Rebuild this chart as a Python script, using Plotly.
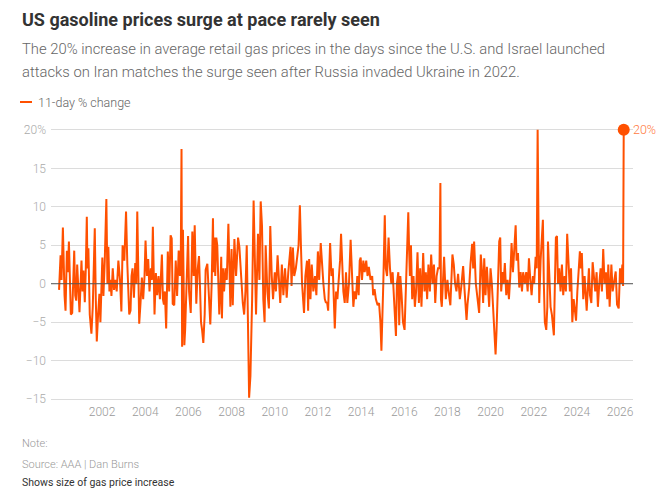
import plotly.graph_objects as go

# 11-day % change in US average retail gasoline price
dates = [
    "2000-01-03", "2000-01-29", "2000-02-14", "2000-03-08", "2000-04-05", "2000-04-22", "2000-05-15", "2000-06-01", "2000-06-18", "2000-07-05", "2000-07-21", "2000-08-13", "2000-09-16", "2000-10-03", "2000-10-20", "2000-11-05", "2000-11-28", "2000-12-14",
    "2001-01-17", "2001-02-03", "2001-02-20", "2001-03-14", "2001-03-31", "2001-04-17", "2001-04-28", "2001-05-14", "2001-06-06", "2001-07-04", "2001-07-27", "2001-08-30", "2001-09-16", "2001-10-03", "2001-10-25", "2001-11-16", "2001-12-03", "2001-12-21",
    "2002-01-05", "2002-01-23", "2002-02-15", "2002-03-14", "2002-04-01", "2002-04-17", "2002-05-05", "2002-05-22", "2002-06-08", "2002-06-30", "2002-07-22", "2002-08-14", "2002-09-05", "2002-10-03", "2002-10-31", "2002-11-23", "2002-12-14",
    "2003-01-12", "2003-02-10", "2003-03-04", "2003-04-05", "2003-04-27", "2003-05-14", "2003-05-31", "2003-06-23", "2003-07-16", "2003-08-02", "2003-08-19", "2003-09-05", "2003-09-21", "2003-10-13", "2003-11-05", "2003-11-27", "2003-12-20",
    "2004-01-06", "2004-01-29", "2004-02-20", "2004-03-13", "2004-04-05", "2004-04-22", "2004-05-09", "2004-05-26", "2004-06-06", "2004-06-29", "2004-07-21", "2004-08-13", "2004-09-05", "2004-10-09", "2004-10-26", "2004-11-12", "2004-11-28", "2004-12-20",
    "2005-01-17", "2005-02-09", "2005-03-05", "2005-03-24", "2005-04-10", "2005-05-06", "2005-05-31", "2005-06-23", "2005-07-20", "2005-08-10", "2005-08-26", "2005-08-31", "2005-09-06", "2005-09-16", "2005-09-22", "2005-09-30", "2005-10-14", "2005-10-24", "2005-11-06", "2005-11-22", "2005-12-06", "2005-12-26",
    "2006-01-12", "2006-02-09", "2006-03-08", "2006-03-31", "2006-04-17", "2006-05-14", "2006-06-06", "2006-06-29", "2006-07-16", "2006-08-02", "2006-08-20", "2006-09-10", "2006-10-03", "2006-10-19", "2006-11-17", "2006-12-08",
    "2007-01-06", "2007-01-29", "2007-02-20", "2007-03-03", "2007-03-14", "2007-03-31", "2007-04-17", "2007-05-04", "2007-05-21", "2007-06-07", "2007-06-24", "2007-07-10", "2007-07-22", "2007-08-08", "2007-08-27", "2007-09-20", "2007-10-12", "2007-11-08", "2007-12-12",
    "2008-01-01", "2008-01-21", "2008-02-18", "2008-03-17", "2008-04-20", "2008-05-12", "2008-06-05", "2008-07-09", "2008-08-01", "2008-08-23", "2008-09-14", "2008-10-01", "2008-10-12", "2008-10-24", "2008-11-15", "2008-12-03", "2008-12-14",
    "2009-01-08", "2009-02-02", "2009-02-18", "2009-03-23", "2009-04-16", "2009-05-08", "2009-05-30", "2009-06-21", "2009-07-13", "2009-07-31", "2009-08-29", "2009-09-24", "2009-10-17", "2009-11-11", "2009-12-03",
    "2010-01-01", "2010-01-21", "2010-02-18", "2010-03-12", "2010-04-04", "2010-05-01", "2010-05-27", "2010-06-24", "2010-07-22", "2010-08-18", "2010-09-25", "2010-10-12", "2010-11-04", "2010-11-26", "2010-12-24",
    "2011-02-08", "2011-03-02", "2011-03-20", "2011-04-08", "2011-05-11", "2011-06-03", "2011-07-01", "2011-07-20", "2011-08-06", "2011-08-28", "2011-09-19", "2011-10-16", "2011-11-13", "2011-12-06",
    "2012-01-01", "2012-01-23", "2012-02-18", "2012-03-11", "2012-04-03", "2012-04-27", "2012-05-14", "2012-06-06", "2012-06-23", "2012-07-10", "2012-07-26", "2012-08-18", "2012-09-09", "2012-10-13", "2012-11-04", "2012-11-26", "2012-12-18",
    "2013-01-10", "2013-01-27", "2013-02-13", "2013-03-07", "2013-03-30", "2013-04-21", "2013-05-13", "2013-06-10", "2013-07-08", "2013-07-31", "2013-08-23", "2013-09-14", "2013-10-06", "2013-10-29", "2013-11-21", "2013-12-09", "2013-12-25",
    "2014-01-16", "2014-02-08", "2014-03-03", "2014-03-29", "2014-04-20", "2014-05-12", "2014-06-10", "2014-07-08", "2014-07-24", "2014-08-17", "2014-09-08", "2014-10-08", "2014-11-01", "2014-11-24", "2014-12-11", "2014-12-28",
    "2015-01-12", "2015-02-06", "2015-02-23", "2015-03-17", "2015-04-11", "2015-05-05", "2015-05-28", "2015-06-19", "2015-07-09", "2015-07-26", "2015-08-14", "2015-08-30", "2015-09-23", "2015-10-08", "2015-10-27", "2015-11-18", "2015-12-11",
    "2016-01-07", "2016-01-24", "2016-02-10", "2016-03-10", "2016-03-23", "2016-04-06", "2016-04-24", "2016-05-15", "2016-06-06", "2016-06-29", "2016-07-20", "2016-08-13", "2016-09-05", "2016-09-27", "2016-10-19", "2016-11-17", "2016-12-10",
    "2017-01-01", "2017-01-23", "2017-02-14", "2017-03-10", "2017-04-01", "2017-04-26", "2017-05-18", "2017-06-09", "2017-07-02", "2017-07-26", "2017-08-20", "2017-09-04", "2017-09-14", "2017-09-28", "2017-10-20", "2017-11-06", "2017-12-05",
    "2018-01-01", "2018-01-29", "2018-02-20", "2018-03-27", "2018-04-19", "2018-05-11", "2018-06-03", "2018-07-01", "2018-07-30", "2018-08-22", "2018-09-24", "2018-10-18", "2018-11-10", "2018-11-21", "2018-12-07",
    "2019-01-04", "2019-01-26", "2019-02-24", "2019-03-13", "2019-03-29", "2019-04-27", "2019-05-26", "2019-06-22", "2019-07-20", "2019-08-11", "2019-08-29", "2019-09-16", "2019-10-08", "2019-10-31", "2019-12-09",
    "2020-01-01", "2020-01-23", "2020-02-15", "2020-03-04", "2020-03-26", "2020-04-12", "2020-04-28", "2020-05-10", "2020-05-27", "2020-06-13", "2020-06-29", "2020-07-22", "2020-08-08", "2020-08-30", "2020-09-23", "2020-10-16", "2020-11-07", "2020-11-30", "2020-12-22",
    "2021-01-14", "2021-02-06", "2021-03-01", "2021-03-17", "2021-04-09", "2021-05-01", "2021-05-24", "2021-06-16", "2021-07-06", "2021-08-04", "2021-08-27", "2021-09-20", "2021-10-12", "2021-11-04", "2021-11-26", "2021-12-18",
    "2022-01-08", "2022-02-02", "2022-02-20", "2022-03-08", "2022-03-22", "2022-04-04", "2022-04-27", "2022-05-12", "2022-06-05", "2022-06-21", "2022-07-08", "2022-08-01", "2022-08-19", "2022-08-30", "2022-09-21", "2022-10-13", "2022-11-04", "2022-12-08", "2022-12-25",
    "2023-01-11", "2023-01-29", "2023-02-15", "2023-03-08", "2023-03-31", "2023-04-23", "2023-05-15", "2023-06-07", "2023-06-29", "2023-07-21", "2023-08-13", "2023-09-05", "2023-09-24", "2023-10-16", "2023-11-08", "2023-11-25", "2023-12-18",
    "2024-01-09", "2024-01-31", "2024-02-21", "2024-03-10", "2024-03-25", "2024-04-18", "2024-05-11", "2024-06-15", "2024-07-06", "2024-07-23", "2024-08-10", "2024-09-02", "2024-09-24", "2024-10-16", "2024-11-07", "2024-11-30", "2024-12-22",
    "2025-01-14", "2025-02-06", "2025-02-28", "2025-03-22", "2025-04-14", "2025-05-07", "2025-05-30", "2025-06-16", "2025-07-09", "2025-08-07", "2025-08-29", "2025-09-21", "2025-10-19", "2025-11-11", "2025-12-09",
    "2026-01-01", "2026-01-18", "2026-02-09", "2026-02-21", "2026-03-04",
]

pct_change = [
    -0.8, 3.7, 0.5, 7.3, -1.5, -3.5, 4.3, 1.5, 5.5, 0.0, -4.0, -3.8, 4.3, -1.5, -2.2, 2.5, -1.0, -3.7,
    3.0, -1.0, 1.7, -2.4, 2.0, 8.7, 2.0, 4.6, -4.0, -6.5, -3.0, 7.2, -2.0, -7.5, -4.0, -1.3, -5.0, 0.5,
    3.4, -1.6, 3.0, 11.0, 0.0, 4.8, -1.0, 0.5, -1.6, 2.0, -0.8, 0.5, -1.0, 3.0, 0.5, -3.6, 5.0,
    3.0, 9.4, 2.5, -4.0, -3.5, 1.0, 2.0, -1.8, 2.7, 0.0, 9.4, 0.0, -5.2, -2.5, 0.8, -2.0, 1.0,
    5.6, 1.0, 3.2, -1.0, 2.0, 0.5, 7.4, 0.5, -4.0, 1.4, -1.5, 1.0, -2.0, 3.8, -2.0, -2.7, -1.0, -5.8,
    4.2, -1.0, 6.3, 5.9, -2.6, -2.8, 3.0, -1.6, 4.3, 1.0, 4.5, 11.0, 17.5, -8.2, 2.0, 7.0, -1.0, -8.0, -6.0, -2.0, 4.0, 6.2,
    -1.0, -3.8, 6.8, 1.0, 7.6, -2.6, 1.8, 3.6, -0.5, -5.0, -6.0, -7.7, -4.0, 1.8, 2.6, -1.0,
    -5.3, 0.0, 8.5, 1.5, 6.0, 1.0, 6.0, 5.0, 1.0, -4.0, -1.0, 3.5, -4.5, 2.0, -1.0, 2.0, 0.5, 7.8, -3.0,
    4.5, -2.8, 5.8, 1.0, 6.0, 4.8, 1.0, -2.5, -4.0, -1.0, 5.0, -4.0, -12.0, -14.8, -12.0, -7.0, -2.0,
    10.8, 2.0, -4.0, 6.5, 0.5, 10.7, 7.5, -2.0, -5.0, 5.0, -1.0, -3.2, 7.5, 1.0, -2.0,
    1.5, -1.0, 3.7, 1.0, -2.5, 2.5, -1.5, 2.0, -1.8, 1.5, 4.8, -0.3, 4.7, 1.0, 2.0,
    5.0, 10.2, 4.9, 0.0, -3.8, 1.0, 3.0, -3.5, 3.2, -2.0, 2.5, -1.0, 1.0, -1.5,
    4.2, 0.5, 5.3, 2.0, 0.0, -2.0, -2.4, -2.5, -3.5, 1.5, 5.3, 1.0, 2.0, -5.8, -1.0, -2.0, 0.0,
    3.0, 6.5, 3.5, -1.0, -2.5, 1.5, -2.5, 0.0, 5.7, 1.0, -3.0, -1.0, -2.0, 1.0, -1.5, 3.0, 3.4,
    0.5, 3.0, 1.5, 3.0, 1.0, 2.2, 0.5, 1.0, -1.5, -0.7, -2.0, -2.8, -2.5, -5.0, -8.7, -5.0,
    0.0, 8.9, 2.0, 1.0, 6.0, 2.0, 0.0, 1.5, -2.0, -4.0, -6.8, 0.0, 1.5, -5.4, 1.0, -1.5, -5.0,
    -6.0, -2.0, 2.0, 9.3, 4.7, 1.0, 5.0, -2.0, 1.0, -3.0, -1.0, 4.1, -2.5, 2.0, -3.0, 4.0, -1.0,
    1.5, -2.0, 2.5, -1.0, 3.8, 0.0, 2.5, -2.5, 1.0, 2.0, 2.0, 13.1, -2.0, -3.0, 1.0, 3.5, -2.0,
    0.5, -1.5, -2.8, 3.8, 2.5, 0.0, -1.0, 1.3, -2.0, -0.5, 2.3, -0.8, -3.0, -4.7, -2.7,
    -0.5, 2.5, 5.2, 2.0, 5.5, 0.0, -2.0, -3.8, 3.8, 1.5, -2.5, 3.3, -1.5, 2.2, -3.0,
    2.0, 0.0, -3.0, -5.0, -9.2, -6.0, -2.0, 3.5, 5.5, 6.0, -1.0, 1.5, 0.0, 2.7, -1.5, 0.5, -2.0, 1.0, 5.3,
    1.5, 4.0, 7.6, 3.0, 4.0, -0.5, 1.5, -1.0, 1.5, 0.0, 1.5, -1.0, 3.3, 0.5, -1.5, 1.0,
    0.0, 3.5, 2.0, 20.0, -1.0, -2.5, 3.0, 5.5, 8.3, 0.0, -5.0, -6.0, -3.0, 5.5, 2.0, -3.0, -4.0, -6.7, 0.0,
    6.0, 6.2, 0.0, 2.0, -1.0, 2.5, -1.5, 1.0, -1.0, 6.5, 2.0, -1.0, 2.0, -5.0, -2.0, -3.5, -4.8,
    -1.0, 2.0, 4.2, 2.0, 4.0, -2.0, 1.0, -3.5, -1.0, 2.0, -1.5, -2.5, 2.8, 1.0, -1.0, 1.5, -3.0,
    0.0, 2.0, -1.0, 4.5, 0.0, 1.5, -2.0, 2.5, -3.0, 2.5, -1.0, 0.5, 1.6, -2.7, -3.2,
    2.0, 0.0, 2.5, -0.3, 20.0,
]

assert len(dates) == len(pct_change)

x_ticks = ["2002-01-01", "2004-01-01", "2006-01-01", "2008-01-01", "2010-01-01", "2012-01-01", "2014-01-01",
           "2016-01-01", "2018-01-01", "2020-01-01", "2022-01-01", "2024-01-01", "2026-01-01"]
x_tick_labels = [d[:4] for d in x_ticks]
y_ticks = [-15, -10, -5, 0, 5, 10, 15, 20]
y_tick_labels = ["\u221215", "\u221210", "\u22125", "0", "5", "10", "15", "20%"]

ORANGE = "#ff5000"
FONT = "Roboto"

# the page body adds an 8px margin, so the figure is drawn 8px smaller and shifted
OFF = 8
W, H = 665 - OFF, 493 - OFF
ML, MR, MT, MB = 51 - OFF, 32, 126 - OFF, 90
PW, PH = W - ML - MR, H - MT - MB


def px(x):  # window pixel -> paper x
    return (x - OFF - ML) / PW


def py(y):  # window pixel -> paper y
    return (H - MB - (y - OFF)) / PH


fig = go.Figure()
fig.add_trace(go.Scatter(x=dates, y=pct_change, mode="lines",
                         line=dict(color=ORANGE, width=2), name="11-day % change",
                         hoverinfo="skip"))
fig.add_trace(go.Scatter(x=dates[-1:], y=pct_change[-1:], mode="markers",
                         marker=dict(color=ORANGE, size=12), cliponaxis=False,
                         hoverinfo="skip"))

# zero line on top of the series
fig.add_shape(type="line", xref="paper", x0=0, x1=1, yref="y", y0=0, y1=0,
              line=dict(color="#555555", width=1), layer="above")
# legend swatch
fig.add_shape(type="line", xref="paper", yref="paper", x0=px(20), x1=px(32),
              y0=py(102), y1=py(102), line=dict(color=ORANGE, width=2))

notes = [
    ("<b>US gasoline prices surge at pace rarely seen</b>", 20, 18, "#333333", 400),
    ("The 20% increase in average retail gas prices in the days since the U.S. and Israel launched", 49, 14.8, "#666666", 300),
    ("attacks on Iran matches the surge seen after Russia invaded Ukraine in 2022.", 72, 14.8, "#666666", 300),
    ("Note:", 443, 11, "#999999", 300),
    ("Source: AAA | Dan Burns", 464, 11, "#999999", 300),
    ("Shows size of gas price increase", 482, 10.5, "#333333", 400),
]
for text, y, size, color, weight in notes:
    fig.add_annotation(text=text, xref="paper", yref="paper", x=px(20), y=py(y),
                       xanchor="left", yanchor="middle", showarrow=False,
                       font=dict(family=FONT, size=size, color=color, weight=weight))

fig.add_annotation(text="11-day % change", xref="paper", yref="paper", x=px(36), y=py(102),
                   xanchor="left", yanchor="middle", showarrow=False,
                   font=dict(family=FONT, size=12.5, color="#666666", weight=300))

fig.add_annotation(text=f"{pct_change[-1]:.0f}%", x=dates[-1], y=pct_change[-1],
                   xanchor="left", yanchor="middle", xshift=7, showarrow=False,
                   font=dict(family=FONT, size=12.5, color="#ff7a40", weight=300))

fig.update_layout(
    width=W, height=H,
    margin=dict(l=ML, r=MR, t=MT, b=MB),
    paper_bgcolor="white", plot_bgcolor="white",
    showlegend=False,
    font=dict(family=FONT),
)
fig.update_xaxes(
    type="date", range=["1999-08-20", "2026-08-08"],
    tickvals=x_ticks, ticktext=x_tick_labels,
    showgrid=False, zeroline=False, showline=False, ticks="",
    tickfont=dict(family=FONT, size=12, color="#999999", weight=300),
)
fig.update_yaxes(
    range=[-15.5, 20.5], tickvals=y_ticks, ticktext=y_tick_labels,
    showgrid=True, gridcolor="#dcdcdc", gridwidth=1, zeroline=False,
    showline=False, ticks="", ticklabelstandoff=4,
    tickfont=dict(family=FONT, size=12, color="#aaaaaa", weight=300),
)

fig.write_html("out.html")
